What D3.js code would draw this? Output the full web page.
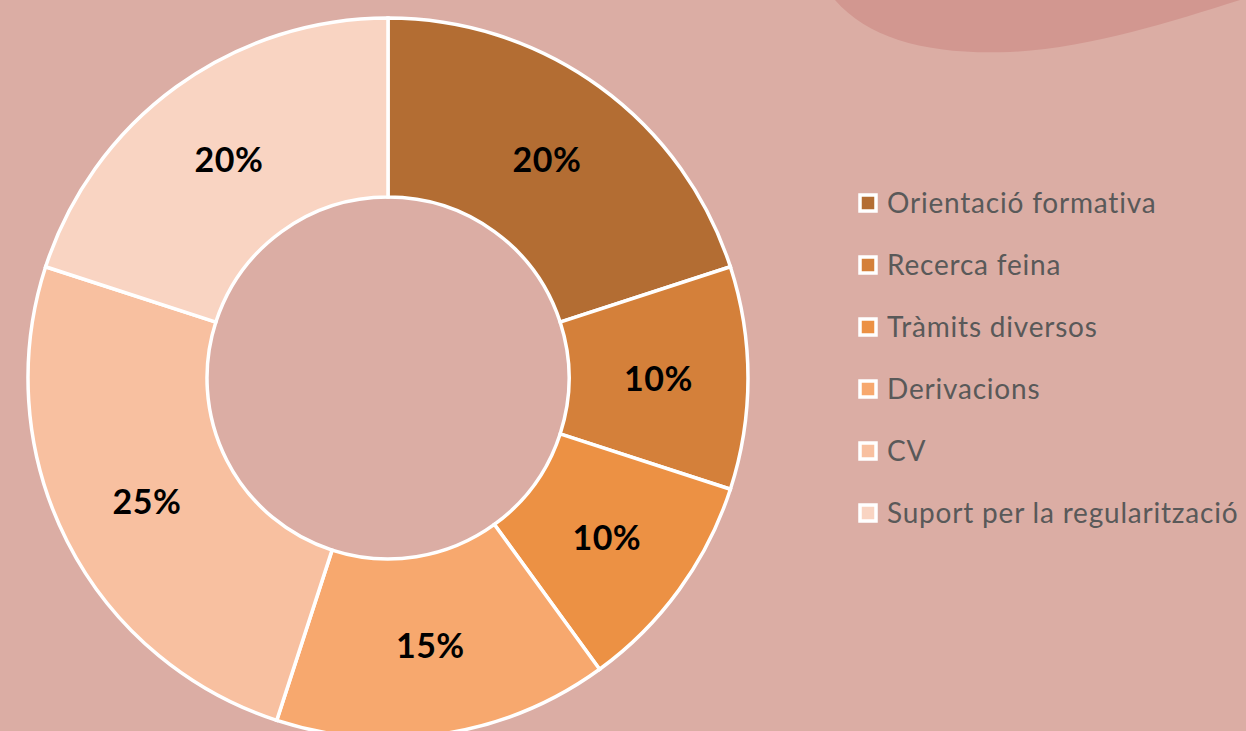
<!DOCTYPE html>
<html>
<head>
<meta charset="utf-8">
<script src="https://cdn.jsdelivr.net/npm/d3@7"></script>
<style>
  body { margin: 0; background: #dbada4; overflow: hidden; }
</style>
</head>
<body>
<div id="chart"></div>
<script>
// data
const categories = ["Orientació formativa", "Recerca feina", "Tràmits diversos", "Derivacions", "CV", "Suport per la regularització"];
const values = [20, 10, 10, 15, 25, 20];
const colors = ["#b36d33", "#d4803a", "#ec9144", "#f7a86e", "#f8c0a0", "#f9d4c2"];

const width = 1246, height = 731;
const cx = 388, cy = 378, outerR = 360, innerR = 181;

const svg = d3.select("#chart")
  .append("svg")
    .attr("width", width)
    .attr("height", height);

svg.append("rect")
  .attr("width", width)
  .attr("height", height)
  .attr("fill", "#dbada4");

// decorative blob top right
svg.append("path")
  .attr("d", "M835,0 C870,40 930,55 1010,52 C1090,48 1170,22 1240,0 Z")
  .attr("fill", "#d29790");

const data = categories.map((c, i) => ({ name: c, value: values[i], color: colors[i] }));

const pie = d3.pie().sort(null).value(d => d.value);
const arc = d3.arc().innerRadius(innerR).outerRadius(outerR);

const g = svg.append("g")
  .attr("transform", "translate(" + cx + "," + cy + ")");

g.selectAll("path")
  .data(pie(data))
  .enter()
  .append("path")
    .attr("d", arc)
    .attr("fill", d => d.data.color)
    .attr("stroke", "white")
    .attr("stroke-width", 3.5);

g.selectAll("text")
  .data(pie(data))
  .enter()
  .append("text")
    .attr("transform", d => "translate(" + arc.centroid(d) + ")")
    .attr("text-anchor", "middle")
    .attr("dy", "0.38em")
    .style("font-family", "Lato, 'Open Sans', sans-serif")
    .style("font-weight", "bold")
    .style("font-size", "34px")
    .style("letter-spacing", "0.5px")
    .attr("fill", "#000")
    .text(d => d.data.value + "%");

// legend
const legend = svg.append("g")
  .attr("transform", "translate(860,203)");

const rows = legend.selectAll("g")
  .data(data)
  .enter()
  .append("g")
    .attr("transform", (d, i) => "translate(0," + i * 62 + ")");

rows.append("rect")
  .attr("x", 0)
  .attr("y", -8)
  .attr("width", 16)
  .attr("height", 16)
  .attr("fill", d => d.color)
  .attr("stroke", "white")
  .attr("stroke-width", 3.5);

rows.append("text")
  .attr("x", 27)
  .attr("dy", "0.36em")
  .style("font-family", "Lato, 'Open Sans', sans-serif")
  .style("font-size", "28px")
  .style("letter-spacing", "0.8px")
  .attr("fill", "#595959")
  .text(d => d.name);
</script>
</body>
</html>
